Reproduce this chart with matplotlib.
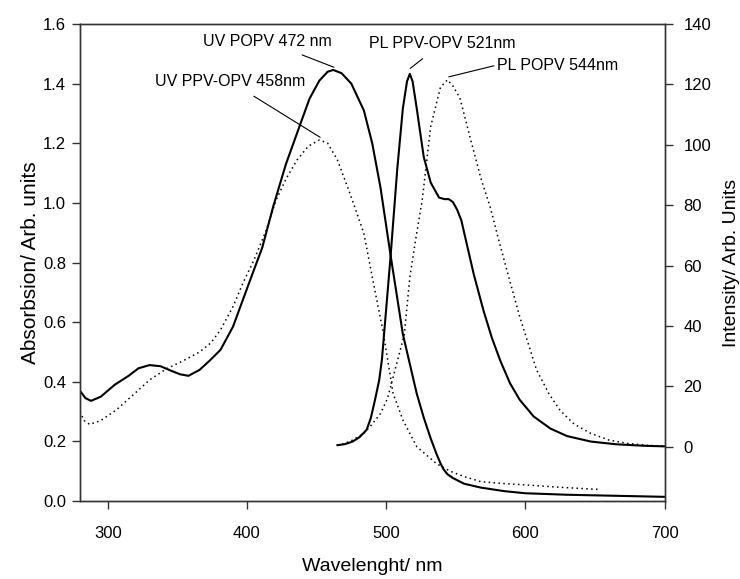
import numpy as np
import matplotlib
matplotlib.use('Agg')
import matplotlib.pyplot as plt

plt.rcParams['font.family'] = ['Liberation Sans', 'DejaVu Sans']

# UV absorption, POPV (solid, left axis)
uv_popv_wl = [280, 284, 288, 295, 305, 315, 322, 330, 338, 345, 352, 358, 366, 373, 381,
              390, 397, 405, 411, 419, 428, 438, 445, 452, 458, 462, 468, 475, 484,
              490, 496, 503, 508, 512, 517, 522, 527, 532, 536, 539, 541, 544, 548, 556, 568,
              585, 600, 630, 660, 700]
uv_popv_abs = [0.37, 0.345, 0.336, 0.35, 0.39, 0.42, 0.445, 0.456, 0.452, 0.438, 0.425, 0.42,
               0.44, 0.47, 0.507, 0.585, 0.674, 0.775, 0.85, 0.99, 1.13, 1.26, 1.35, 1.41,
               1.44, 1.446, 1.435, 1.40, 1.31, 1.20, 1.05, 0.83, 0.68, 0.56, 0.46, 0.36, 0.28,
               0.21, 0.16, 0.127, 0.108, 0.09, 0.077, 0.058, 0.045, 0.033, 0.026, 0.021,
               0.018, 0.014]

# UV absorption, PPV-OPV (dotted, left axis)
uv_ppv_wl = [280, 283, 287, 295, 306, 318, 330, 342, 354, 366, 374, 381, 390, 397, 405, 414,
             421, 428, 436, 444, 452, 458, 465, 474, 484, 490, 498, 505, 512, 522, 536, 546,
             556, 568, 580, 600, 625, 652]
uv_ppv_abs = [0.30, 0.27, 0.257, 0.27, 0.305, 0.355, 0.406, 0.443, 0.47, 0.50, 0.53, 0.574,
              0.652, 0.73, 0.808, 0.91, 1.01, 1.08, 1.144, 1.19, 1.211, 1.20, 1.144, 1.032,
              0.898, 0.752, 0.563, 0.361, 0.272, 0.182, 0.126, 0.10, 0.082, 0.065, 0.06,
              0.054, 0.046, 0.039]

# PL, PPV-OPV (solid, right axis)
pl_ppv_wl = [465, 470, 476, 481, 486, 489, 492, 495, 497, 499, 503, 508, 512, 515, 517, 519,
             522, 527, 532, 538, 542, 545, 548, 551, 554, 558, 563, 570, 576, 582, 589, 596,
             606, 618, 630, 647, 665, 685, 700]
pl_ppv_int = [0.5, 0.8, 1.7, 3.2, 5.6, 9.5, 15.5, 22, 29, 40, 62, 92, 112, 121, 123.5, 121,
              112, 96, 87.5, 82.5, 82, 82, 81, 78.5, 75, 67, 57, 45, 36, 28.5, 21, 15.5,
              10, 6, 3.5, 1.7, 0.8, 0.3, 0.1]

# PL, POPV (dotted, right axis)
pl_popv_wl = [465, 470, 476, 484, 490, 496, 501, 505, 509, 513, 517, 521, 526, 532, 539, 544,
              548, 553, 560, 568, 575, 580, 587, 596, 608, 617, 625, 635, 647, 660, 673, 688, 700]
pl_popv_int = [0.5, 1.0, 2.2, 4.4, 7.5, 11, 16, 23, 30, 37, 56, 68, 82, 106, 119, 121.5,
               119.5, 115.5, 103, 89, 79, 70, 58, 43, 25.5, 17.5, 12, 7.5, 4.4, 2.2, 1.1, 0.4, 0.2]

x_ticks = [300, 400, 500, 600, 700]
abs_ticks = [0.0, 0.2, 0.4, 0.6, 0.8, 1.0, 1.2, 1.4, 1.6]
int_ticks = [0, 20, 40, 60, 80, 100, 120, 140]

fig = plt.figure(figsize=(7.4, 5.79), dpi=100)
ax = fig.add_axes([0.108, 0.1347, 0.790, 0.8238])
ax2 = ax.twinx()

dotted = (0, (1, 2.2))
ax.plot(uv_popv_wl, uv_popv_abs, color='black', lw=1.5)
ax.plot(uv_ppv_wl, uv_ppv_abs, color='black', lw=1.1, ls=dotted)
ax2.plot(pl_ppv_wl, pl_ppv_int, color='black', lw=1.5)
ax2.plot(pl_popv_wl, pl_popv_int, color='black', lw=1.1, ls=dotted)

ax.set_xlim(280, 700)
ax.set_ylim(0, 1.6)
ax2.set_ylim(-18, 140)
ax.set_xticks(x_ticks)
ax.set_yticks(abs_ticks)
ax.set_yticklabels(['%.1f' % v for v in abs_ticks])
ax2.set_yticks(int_ticks)

for a in (ax, ax2):
    a.tick_params(direction='out', length=6, width=1, labelsize=12, color='#333333')
    for s in a.spines.values():
        s.set_color('#333333')
        s.set_linewidth(1)
ax.tick_params(axis='x', pad=12)
ax.tick_params(axis='y', pad=4)
ax2.tick_params(axis='y', pad=7.5)

ax.set_xlabel('Wavelenght/ nm', fontsize=14, va='center')
ax.xaxis.set_label_coords(0.5, -0.138)
ax.set_ylabel('Absorbsion/ Arb. units', fontsize=15, va='center')
ax.yaxis.set_label_coords(-0.085, 0.5)
ax2.set_ylabel('Intensity/ Arb. Units', fontsize=14, va='center')
ax2.yaxis.set_label_coords(1.115, 0.5)

fs = 11.5
ax.annotate('UV POPV 472 nm', xy=(462.5, 1.455), xytext=(415, 1.541), fontsize=fs,
            ha='center', va='center',
            arrowprops=dict(arrowstyle='-', color='black', lw=0.8, shrinkA=6, shrinkB=0))
ax.annotate('UV PPV-OPV 458nm', xy=(452.6, 1.22), xytext=(388, 1.407), fontsize=fs,
            ha='center', va='center',
            arrowprops=dict(arrowstyle='-', color='black', lw=0.8, shrinkA=6, shrinkB=0))
ax2.annotate('PL PPV-OPV 521nm', xy=(517.3, 125.3), xytext=(540.3, 133.6), fontsize=fs,
             ha='center', va='center',
             arrowprops=dict(arrowstyle='-', color='black', lw=0.8, shrinkA=6, shrinkB=0,
                             connectionstyle='arc3'))
ax2.annotate('PL POPV 544nm', xy=(545, 122.5), xytext=(623, 126.4), fontsize=fs,
             ha='center', va='center',
             arrowprops=dict(arrowstyle='-', color='black', lw=0.8, shrinkA=0, shrinkB=0,
                             relpos=(0, 0.5)))

fig.savefig('out.png', dpi=100)
